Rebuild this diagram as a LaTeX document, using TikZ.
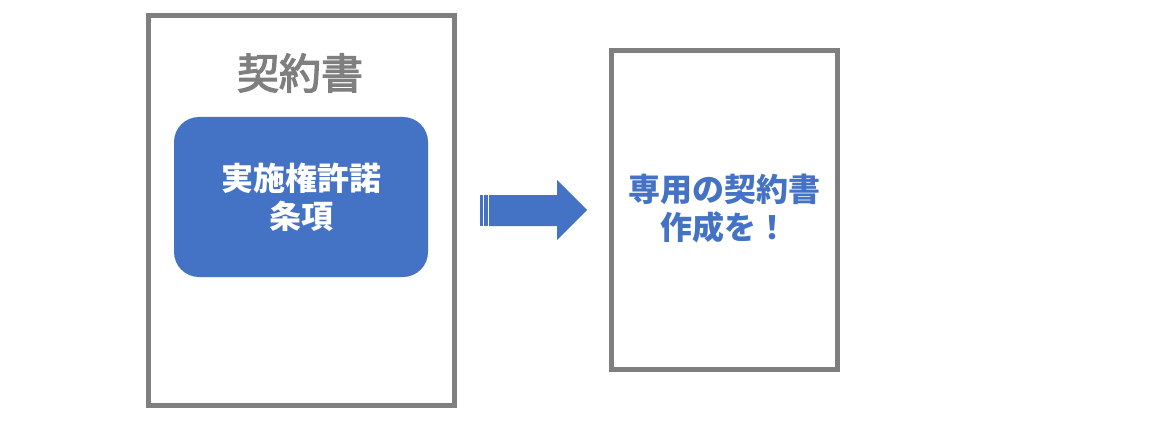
\documentclass[tikz,border=0pt]{standalone}
\usepackage{fontspec}
\newfontfamily\cjk{Noto Sans CJK JP}
\newfontfamily\cjkmed{Noto Sans CJK JP}[FakeBold=3]
\definecolor{boxgray}{HTML}{7F7F7F}
\definecolor{accent}{HTML}{4472C4}
\begin{document}
\begin{tikzpicture}[x=1pt,y=-1pt,
  frame/.style={draw=boxgray,line width=5pt},
  clause/.style={fill=accent,rounded corners=25pt},
  lbl/.style={font=\cjk\bfseries\fontsize{32}{38}\selectfont,align=center,inner sep=0pt}]
\useasboundingbox (0,0) rectangle (1161,425);
\draw[frame] (148,16) rectangle (454,405);
\node[inner sep=0pt,text=boxgray,font=\cjkmed\fontsize{42}{50}\selectfont] (title) at (300,73) {契約書};
\path[clause] (174,117) rectangle (428,277);
\node[lbl,text=white] (clause) at (301,197) {実施権許諾\\条項};
\draw[frame] (611.5,50.5) rectangle (837.5,369.5);
\node[lbl,text=accent] (doc) at (724,209) {専用の契約書\\作成を！};
\fill[accent] (480,195) rectangle (482.5,226);
\fill[accent] (484,195) rectangle (487.5,226);
\fill[accent] (489,195) -- (557,195) -- (557,180) -- (587,210) -- (557,240) -- (557,226) -- (489,226) -- cycle;
\end{tikzpicture}
\end{document}
